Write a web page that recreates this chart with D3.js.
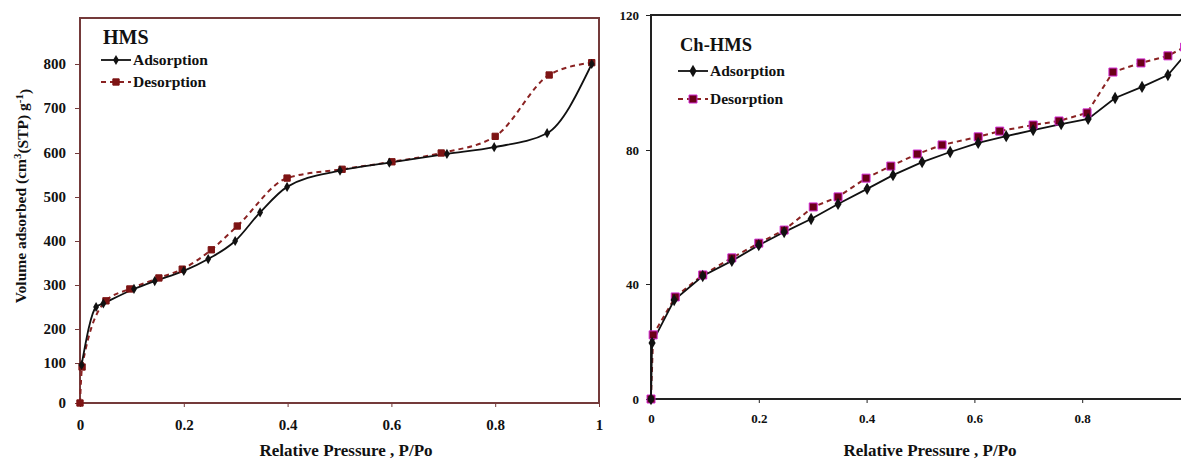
<!DOCTYPE html>
<html>
<head>
<meta charset="utf-8">
<script src="https://cdn.jsdelivr.net/npm/d3@7"></script>
<style>
  body { margin: 0; background: #fff; }
  text { font-family: "Liberation Serif", "Times New Roman", serif; font-weight: bold; fill: #111; }
</style>
</head>
<body>
<svg width="1181" height="461"></svg>
<script>
// ---- HMS (left panel) ----
var hmsAdsP = [0.003, 0.031, 0.045, 0.104, 0.144, 0.2, 0.247, 0.299, 0.347, 0.399, 0.501, 0.596, 0.707, 0.798, 0.9, 0.986];
var hmsAdsV = [95, 250, 258, 291, 309, 332, 359, 400, 465, 523, 560, 578, 598, 613, 644, 800];
var hmsDesP = [0, 0.004, 0.05, 0.096, 0.152, 0.197, 0.253, 0.303, 0.399, 0.505, 0.601, 0.696, 0.8, 0.904, 0.986];
var hmsDesV = [0, 90, 264, 291, 316, 336, 380, 434, 543, 563, 580, 600, 637, 775, 803];
var hmsYTicks = [0, 100, 200, 300, 400, 500, 600, 700, 800];

// ---- Ch-HMS (right panel) ----
var chAdsP = [0, 0.002, 0.043, 0.096, 0.15, 0.2, 0.247, 0.297, 0.347, 0.401, 0.449, 0.503, 0.555, 0.607, 0.659, 0.709, 0.761, 0.811, 0.861, 0.911, 0.959, 0.99];
var chAdsV = [0, 19.5, 34.4, 42.4, 46.9, 51.6, 55.5, 59.4, 63.9, 68.4, 72.5, 76.4, 79.4, 82.1, 84.1, 85.9, 87.7, 89.2, 95.4, 98.7, 102.2, 108];
var chDesP = [0, 0.004, 0.045, 0.096, 0.15, 0.2, 0.247, 0.301, 0.347, 0.399, 0.445, 0.494, 0.54, 0.607, 0.647, 0.709, 0.757, 0.809, 0.857, 0.909, 0.959, 0.99];
var chDesV = [0, 22.3, 35.5, 42.7, 47.8, 52.2, 56.1, 63.0, 66.0, 71.6, 75.2, 78.8, 81.5, 83.9, 85.6, 87.4, 88.6, 91.0, 103.1, 105.8, 107.9, 110.5];
var chYTicks = [0, 40, 80, 120];

var xTicks = [0, 0.2, 0.4, 0.6, 0.8, 1];

var svg = d3.select("svg");

function zip(p, v) { return p.map(function(d, i) { return {p: d, v: v[i]}; }); }

// the printed figure's y axes are not evenly spaced, so the scales follow the tick marks
var panels = [
  {
    title: "HMS", x0: 80, x1: 599, top: 18, tickPx: [403, 363, 329, 285, 241, 197, 153, 108, 64],
    yTicks: hmsYTicks, xTicks: xTicks, frame: "#743a3a", font: 15,
    ads: zip(hmsAdsP, hmsAdsV), des: zip(hmsDesP, hmsDesV), curve: d3.curveMonotoneX,
    adsSize: 30, desSize: 40, desFill: "#7d1414", desStroke: "#7d1414",
    legend: {x: 101, titleY: 44, rows: [60, 82], titleSize: 20},
    xTitle: 346, yPad: 9, xPad: 12
  },
  {
    title: "Ch-HMS", x0: 651, x1: 1190, top: 15, tickPx: [399, 284, 150, 15],
    yTicks: chYTicks, xTicks: xTicks.slice(0, 5), frame: "#222", font: 13,
    ads: zip(chAdsP, chAdsV), des: zip(chDesP, chDesV), curve: d3.curveLinear,
    adsSize: 44, desSize: 64, desFill: "#6a0018", desStroke: "#d22ad2",
    legend: {x: 678, titleY: 51, rows: [71, 99], titleSize: 18.5},
    xTitle: 930, yPad: 7, xPad: 11
  }
];

panels.forEach(function(c) {
  var x = d3.scaleLinear().domain([0, 1]).range([c.x0, c.x1]);
  var y = d3.scaleLinear().domain(c.yTicks).range(c.tickPx);
  var bottom = c.tickPx[0];
  var g = svg.append("g");

  // axes
  g.append("g")
    .attr("transform", "translate(" + c.x0 + ",0)")
    .call(d3.axisLeft(y).tickValues(c.yTicks).tickSize(5).tickPadding(c.yPad).tickFormat(d3.format("d")))
    .call(function(a) {
      a.select(".domain").remove();
      a.selectAll("line").attr("stroke", c.frame).attr("stroke-width", 1);
      a.selectAll("text").style("font-size", c.font + "px").attr("fill", "#111");
    });

  g.append("g")
    .attr("transform", "translate(0," + bottom + ")")
    .call(d3.axisBottom(x).tickValues(c.xTicks).tickSize(4).tickPadding(c.xPad)
      .tickFormat(function(d) { return d === 0 ? "0" : d === 1 ? "1" : d3.format(".1f")(d); }))
    .call(function(a) {
      a.select(".domain").remove();
      a.selectAll("line").attr("stroke", c.frame).attr("stroke-width", 1);
      a.selectAll("text").style("font-size", c.font + "px").attr("fill", "#111");
    });

  // plot frame
  g.append("rect")
    .attr("x", c.x0).attr("y", c.top)
    .attr("width", c.x1 - c.x0).attr("height", bottom - c.top)
    .attr("fill", "none").attr("stroke", c.frame).attr("stroke-width", 2);

  var line = d3.line().curve(c.curve)
    .x(function(d) { return x(d.p); })
    .y(function(d) { return y(d.v); });

  g.append("path").datum(c.des)
    .attr("d", line).attr("fill", "none")
    .attr("stroke", "#8a2222").attr("stroke-width", 2).attr("stroke-dasharray", "5,4");

  g.append("path").datum(c.ads)
    .attr("d", line).attr("fill", "none")
    .attr("stroke", "#111").attr("stroke-width", 1.8);

  g.selectAll(".des").data(c.des).enter().append("path")
    .attr("class", "des")
    .attr("transform", function(d) { return "translate(" + x(d.p) + "," + y(d.v) + ")"; })
    .attr("d", d3.symbol().type(d3.symbolSquare).size(c.desSize))
    .attr("fill", c.desFill).attr("stroke", c.desStroke).attr("stroke-width", 1);

  g.selectAll(".ads").data(c.ads).enter().append("path")
    .attr("class", "ads")
    .attr("transform", function(d) { return "translate(" + x(d.p) + "," + y(d.v) + ")"; })
    .attr("d", d3.symbol().type(d3.symbolDiamond).size(c.adsSize))
    .attr("fill", "#111");

  // legend
  var L = c.legend;
  g.append("text").attr("x", L.x + 2).attr("y", L.titleY)
    .style("font-size", L.titleSize + "px").text(c.title);

  var rows = [
    {name: "Adsorption", dash: null, color: "#111", sym: d3.symbolDiamond, size: c.adsSize, fill: "#111", stroke: "none"},
    {name: "Desorption", dash: "5,4", color: "#8a2222", sym: d3.symbolSquare, size: c.desSize, fill: c.desFill, stroke: c.desStroke}
  ];
  rows.forEach(function(r, i) {
    var ly = L.rows[i];
    g.append("line").attr("x1", L.x).attr("x2", L.x + 30).attr("y1", ly).attr("y2", ly)
      .attr("stroke", r.color).attr("stroke-width", 1.8).attr("stroke-dasharray", r.dash);
    g.append("path").attr("transform", "translate(" + (L.x + 15) + "," + ly + ")")
      .attr("d", d3.symbol().type(r.sym).size(r.size))
      .attr("fill", r.fill).attr("stroke", r.stroke);
    g.append("text").attr("x", L.x + 32).attr("y", ly + 5)
      .style("font-size", "15.5px").text(r.name);
  });

  // x title
  g.append("text").attr("x", c.xTitle).attr("y", 456)
    .attr("text-anchor", "middle").style("font-size", "17px")
    .text("Relative Pressure , P/Po");
});

// left y title
var yt = svg.append("text")
  .attr("transform", "translate(26,196) rotate(-90)")
  .attr("text-anchor", "middle").style("font-size", "15.5px");
yt.append("tspan").text("Volume adsorbed (cm");
yt.append("tspan").attr("dy", "-0.45em").style("font-size", "11px").text("3");
yt.append("tspan").attr("dy", "0.45em").text("(STP) g");
yt.append("tspan").attr("dy", "-0.45em").style("font-size", "11px").text("-1");
yt.append("tspan").attr("dy", "0.45em").text(")");
</script>
</body>
</html>
